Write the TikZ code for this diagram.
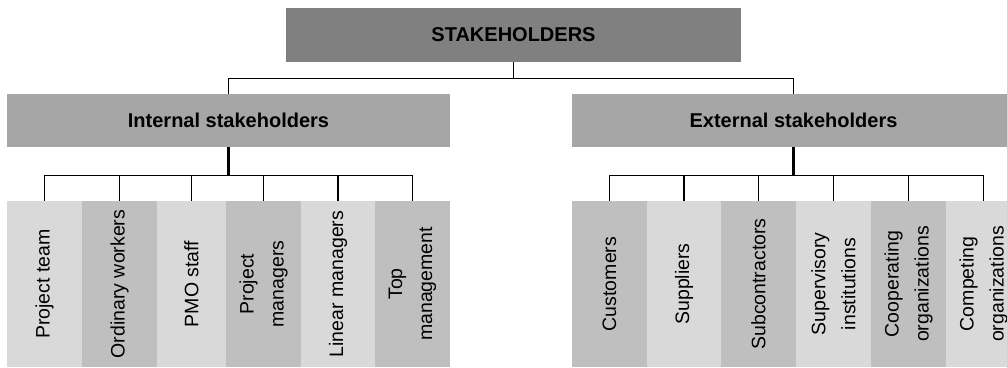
\documentclass[tikz,border=0pt]{standalone}
\usepackage{fontspec}
\setmainfont{Liberation Sans}

\definecolor{topgray}{RGB}{128,128,128}
\definecolor{midgray}{RGB}{166,166,166}
\definecolor{leaflight}{RGB}{217,217,217}
\definecolor{leafdark}{RGB}{191,191,191}

\begin{document}
\begin{tikzpicture}[x=1pt, y=-1pt,
    box/.style={fill=#1, inner sep=0pt, font=\bfseries\fontsize{20}{24}\selectfont},
    leaf/.style={rotate=90, fill=#1, inner sep=0pt, minimum width=166pt, align=center,
        font=\fontsize{19.5}{30}\selectfont},
    link/.style={line width=1.3pt},
    drop/.style={line width=2.2pt}]
    \useasboundingbox (0,0) rectangle (1007,367);

    % Root
    \node[box=topgray, minimum width=455pt, minimum height=54pt] (root) at (513.5,35) {STAKEHOLDERS};

    % Groups
    \node[box=midgray, minimum width=443pt, minimum height=53pt] (int) at (228.5,120.5) {Internal stakeholders};
    \node[box=midgray, minimum width=443pt, minimum height=53pt] (ext) at (793.5,120.5) {External stakeholders};

    % Internal stakeholders (rotated, so .east is the top side)
    \node[leaf=leaflight, minimum height=75pt] (pt)  at (44.5,284)  {Project team};
    \node[leaf=leafdark,  minimum height=75pt] (ow)  at (119.5,284) {Ordinary workers};
    \node[leaf=leaflight, minimum height=69pt] (pmo) at (191.5,284) {PMO staff};
    \node[leaf=leafdark,  minimum height=75pt] (pm)  at (263.5,284) {Project\\managers};
    \node[leaf=leaflight, minimum height=74pt] (lm)  at (338,284)   {Linear managers};
    \node[leaf=leafdark,  minimum height=75pt] (tm)  at (412.5,284) {Top\\management};

    % External stakeholders
    \node[leaf=leafdark,  minimum height=75pt] (cu)  at (609.5,284) {Customers};
    \node[leaf=leaflight, minimum height=74pt] (su)  at (684,284)   {Suppliers};
    \node[leaf=leafdark,  minimum height=75pt] (sc)  at (758.5,284) {Subcontractors};
    \node[leaf=leaflight, minimum height=75pt] (si)  at (833.5,284) {Supervisory\\institutions};
    \node[leaf=leafdark,  minimum height=75pt] (co)  at (908.5,284) {Cooperating\\organizations};
    \node[leaf=leaflight, minimum height=75pt] (cp)  at (983.5,284) {Competing\\organizations};

    % Root to groups
    \draw[link, line width=1.6pt] (root.south) -- ++(0,16) coordinate (rbus);
    \draw[link] (rbus) -| (int.north);
    \draw[link] (rbus) -| (ext.north);

    % Groups to leaves
    \draw[drop] (int.south) -- ++(0,28) coordinate (ibus);
    \draw[drop] (ext.south) -- ++(0,28) coordinate (ebus);
    \foreach \n in {pt,ow,pmo,pm,lm,tm}
        \draw[link] (ibus) -| (\n.east);
    \foreach \n in {cu,su,sc,si,co,cp}
        \draw[link] (ebus) -| (\n.east);
\end{tikzpicture}
\end{document}
